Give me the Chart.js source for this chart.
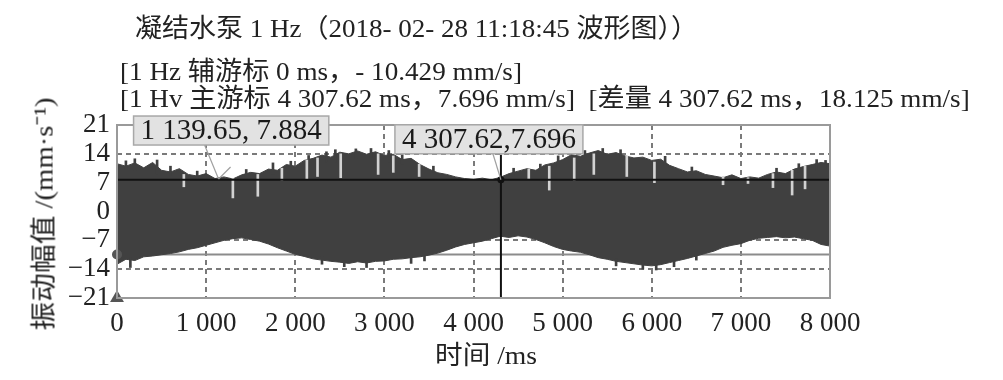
<!DOCTYPE html>
<html>
<head>
<meta charset="utf-8">
<script src="https://cdn.jsdelivr.net/npm/chart.js@4.4.1/dist/chart.umd.min.js"></script>
<style>
body { margin: 0; background: #fff; }
#wrap { position: relative; width: 1003px; height: 380px; overflow: hidden; }
#chart { position: absolute; left: 0; top: 0; }
.t { position: absolute; white-space: nowrap; font-family: "Liberation Serif", "Noto Sans CJK SC", serif;
     font-size: 26px; color: #222; line-height: 1; transform-origin: 0 50%; }
</style>
</head>
<body>
<div id="wrap">
  <canvas id="chart" width="1003" height="380"></canvas>
  <div class="t" id="l1">凝结水泵 1 Hz（2018- 02- 28 11:18:45 波形图））</div>
  <div class="t" id="l2">[1 Hz 辅游标 0 ms，- 10.429 mm/s]</div>
  <div class="t" id="l3">[1 Hv 主游标 4 307.62 ms，7.696 mm/s]&nbsp; [差量 4 307.62 ms，18.125 mm/s]</div>
  <div class="t" id="xt">时间 /ms</div>
  <div class="t" id="yt">振动幅值 /(mm·s⁻¹)</div>
</div>
<script>
// waveform envelope (upper / lower edge), every 100 ms
const timeMs = [0, 100, 200, 300, 400, 500, 600, 700, 800, 900,
  1000, 1100, 1200, 1300, 1400, 1500, 1600, 1700, 1800, 1900,
  2000, 2100, 2200, 2300, 2400, 2500, 2600, 2700, 2800, 2900,
  3000, 3100, 3200, 3300, 3400, 3500, 3600, 3700, 3800, 3900,
  4000, 4100, 4200, 4300, 4400, 4500, 4600, 4700, 4800, 4900,
  5000, 5100, 5200, 5300, 5400, 5500, 5600, 5700, 5800, 5900,
  6000, 6100, 6200, 6300, 6400, 6500, 6600, 6700, 6800, 6900,
  7000, 7100, 7200, 7300, 7400, 7500, 7600, 7700, 7800, 7900, 8000]
const upperEnv = [11.6, 11.0, 11.8, 10.6, 11.9, 10.0, 9.6, 10.4, 9.0, 8.6,
  9.2, 8.0, 8.4, 7.9, 8.9, 9.5, 9.2, 10.3, 10.0, 11.4,
  11.0, 12.4, 12.9, 13.7, 13.2, 14.4, 14.0, 14.7, 13.9, 14.5,
  13.6, 13.9, 12.6, 12.9, 11.4, 10.3, 9.4, 9.0, 8.4, 8.0,
  7.8, 8.1, 7.7, 8.3, 9.2, 9.8, 10.4, 10.0, 11.3, 11.8,
  12.6, 13.8, 13.4, 14.2, 14.8, 13.9, 14.3, 13.5, 13.0, 13.2,
  12.4, 12.7, 11.2, 10.4, 9.6, 9.9, 9.0, 8.6, 8.2, 8.9,
  8.0, 8.4, 8.1, 9.0, 9.6, 9.2, 10.3, 10.9, 11.4, 11.9, 11.6]
const lowerEnv = [-12.8, -11.6, -11.9, -11.0, -10.8, -10.5, -10.2, -9.8, -9.2, -8.8,
  -8.2, -7.6, -7.0, -6.6, -6.4, -6.8, -7.2, -7.9, -8.8, -9.6,
  -10.4, -10.9, -11.5, -11.8, -12.1, -12.3, -12.6, -12.2, -12.5, -12.1,
  -12.0, -11.6, -11.5, -11.2, -11.0, -10.6, -10.1, -9.4, -8.6, -8.0,
  -7.6, -7.2, -6.6, -6.0, -6.3, -5.9, -6.2, -6.8, -7.6, -8.5,
  -9.2, -9.6, -9.9, -10.5, -11.2, -11.6, -12.1, -12.4, -12.7, -13.0,
  -13.2, -12.9, -12.4, -11.9, -11.4, -10.8, -10.2, -9.6, -8.7, -8.2,
  -7.8, -7.0, -6.5, -6.3, -6.1, -6.4, -6.2, -6.6, -7.0, -8.0, -8.4]

// light dips cutting into the upper band: [time, low, high]
const dipSpikes = [[750, 6.0, 9.0], [1300, 3.3, 8.0], [1580, 3.7, 9.0], [1850, 7.5, 10.5],
  [2130, 7.8, 12.5], [2250, 8.5, 13.0], [2510, 8.2, 14.0], [2930, 9.0, 14.0], [3100, 9.5, 13.5],
  [3390, 8.5, 11.5], [4620, 8.0, 10.3], [4850, 5.2, 11.0], [5130, 7.5, 13.0], [5350, 9.0, 14.0],
  [5720, 8.5, 13.5], [6030, 7.0, 12.0], [6800, 6.5, 8.5], [7080, 6.8, 8.2], [7360, 5.8, 9.2],
  [7575, 4.0, 10.0], [7720, 5.5, 11.0]]
// dark peaks sticking out of the band: [time, low, high]
const peakSpikes = [[100, 10, 12.3], [200, 10, 12.8], [450, 9, 12.5], [600, 8.5, 11.0],
  [900, 8, 9.8], [1450, 8, 10.2], [1750, 9, 11.8], [1950, 10, 12.2], [2150, 11, 13.6],
  [2350, 12, 14.5], [2450, 12, 15.0], [2680, 13, 15.2], [2850, 13, 15.3], [3050, 12, 14.8],
  [3200, 11.5, 13.8], [3550, 9.5, 11.0], [4450, 8.5, 10.5], [4750, 9.5, 11.5], [4950, 11, 13.5],
  [5250, 12.5, 14.8], [5450, 13, 15.3], [5650, 13, 15.0], [6150, 11, 13.4], [6450, 9, 10.8],
  [7400, 8.5, 10.5], [7650, 9.5, 11.6], [7850, 10, 12.6], [7950, 10.5, 12.4],
  [150, -11, -13.6], [2300, -11, -12.8], [2550, -12, -13.4], [2800, -12, -13.6], [3300, -11, -12.6],
  [3450, -10.5, -12.0], [5600, -11.5, -13.2], [5900, -12, -14.0], [6050, -12, -14.2],
  [6250, -12, -13.4], [6500, -10, -11.8]]

const xTicks = [0, 1000, 2000, 3000, 4000, 5000, 6000, 7000, 8000]
const yTicks = [-21, -14, -7, 0, 7, 14, 21]

// cursors
const mainCursor = { t: 4307.62, v: 7.696, label: '4 307.62,7.696' }
const auxCursor = { t: 0, v: -10.429 }
const marker1 = { t: 1139.65, v: 7.884, label: '1 139.65, 7.884' }

const serif = 'Liberation Serif'

function pts(arr) {
  return timeMs.map((t, i) => ({ x: t, y: arr[i] }))
}
function bars(list) {
  return list.map(s => ({ x: s[0], y: [s[1], s[2]] }))
}
function fmtX(v) {
  return String(v).replace(/\B(?=(\d{3})+(?!\d))/g, ' ')
}

const boxes = {
  id: 'boxes',
  afterDraw(chart) {
    const ctx = chart.ctx
    const a = chart.chartArea
    ctx.save()
    // plot frame
    ctx.strokeStyle = '#9a9a9a'
    ctx.lineWidth = 2
    ctx.strokeRect(a.left, a.top, a.right - a.left, a.bottom - a.top)

    const sx = chart.scales.x, sy = chart.scales.y
    ctx.font = '29px ' + serif
    ctx.textBaseline = 'middle'

    function tag(m, dx, dy, lx) {
      const px = sx.getPixelForValue(m.t), py = sy.getPixelForValue(m.v)
      const w = ctx.measureText(m.label).width + 14
      const h = 29
      const left = px + dx, top = py + dy
      ctx.strokeStyle = '#a0a0a0'
      ctx.lineWidth = 1.2
      ctx.beginPath()
      ctx.moveTo(px + lx, top + h)
      ctx.lineTo(px, py)
      ctx.stroke()
      ctx.fillStyle = '#e2e2e2'
      ctx.fillRect(left, top, w, h)
      ctx.strokeStyle = '#a8a8a8'
      ctx.lineWidth = 1.5
      ctx.strokeRect(left, top, w, h)
      ctx.fillStyle = '#1a1a1a'
      ctx.fillText(m.label, left + 7, top + h / 2 + 1)
    }
    tag(marker1, -85, -63, -14)
    const mx = sx.getPixelForValue(marker1.t), my = sy.getPixelForValue(marker1.v)
    ctx.strokeStyle = '#a0a0a0'
    ctx.lineWidth = 1.2
    ctx.beginPath()
    ctx.moveTo(mx, my)
    ctx.lineTo(mx + 12, my - 12)
    ctx.stroke()
    tag(mainCursor, -106, -55, -8)
    ctx.restore()
  }
}

new Chart(document.getElementById('chart'), {
  type: 'line',
  data: {
    datasets: [
      { data: pts(upperEnv), borderColor: '#404040', backgroundColor: '#404040', borderWidth: 1,
        pointRadius: 0, fill: '+1', order: 6 },
      { data: pts(lowerEnv), borderColor: '#404040', borderWidth: 1, pointRadius: 0, fill: false, order: 6 },
      { type: 'bar', data: bars(peakSpikes), backgroundColor: '#404040', barThickness: 2, grouped: false, order: 5 },
      { type: 'bar', data: bars(dipSpikes), backgroundColor: '#d2d2d2', barThickness: 2, grouped: false, order: 4 },
      { data: [{ x: 0, y: auxCursor.v }, { x: 8000, y: auxCursor.v }], borderColor: '#8c8c8c',
        borderWidth: 2, pointRadius: 0, order: 9 },
      { data: [{ x: 0, y: mainCursor.v }, { x: 8000, y: mainCursor.v }], borderColor: '#111',
        borderWidth: 2, pointRadius: 0, order: 1 },
      { data: [{ x: mainCursor.t, y: -21 }, { x: mainCursor.t, y: 13.8 }], borderColor: '#111',
        borderWidth: 2, pointRadius: 0, order: 1 },
      { data: [{ x: mainCursor.t, y: mainCursor.v }], showLine: false, pointRadius: 3.5,
        pointBackgroundColor: '#111', pointBorderWidth: 0, order: 0 },
      { data: [{ x: auxCursor.t, y: auxCursor.v }], showLine: false, pointRadius: 5, clip: false,
        pointBackgroundColor: '#555', pointBorderWidth: 0, order: 0 },
      { data: [{ x: 0, y: -21 }], showLine: false, pointRadius: 8, pointStyle: 'triangle', clip: false,
        pointBackgroundColor: '#555', pointBorderWidth: 0, order: 0 }
    ]
  },
  options: {
    responsive: false,
    animation: false,
    layout: { padding: { left: 0, top: 125, right: 173, bottom: 0 } },
    plugins: { legend: { display: false }, tooltip: { enabled: false } },
    scales: {
      x: {
        type: 'linear', min: 0, max: 8000, offset: false,
        afterBuildTicks: s => { s.ticks = xTicks.map(v => ({ value: v })) },
        afterFit: s => { s.height = 82 },
        ticks: { font: { family: serif, size: 27 }, color: '#222', padding: 10, maxRotation: 0,
          autoSkip: false, callback: v => fmtX(v) },
        grid: { drawTicks: false, lineWidth: 2, offset: false,
          color: c => (c.tick.value === 0 || c.tick.value === 8000) ? 'rgba(0,0,0,0)' : '#7a7a7a' },
        border: { display: false, dash: [5, 4] }
      },
      y: {
        min: -21, max: 21,
        afterBuildTicks: s => { s.ticks = yTicks.map(v => ({ value: v })) },
        afterFit: s => { s.width = 117 },
        ticks: { font: { family: serif, size: 27 }, color: '#222', padding: 7, autoSkip: false,
          callback: v => String(v).replace('-', '\u2212') },
        grid: { drawTicks: false, lineWidth: 2,
          color: c => (Math.abs(c.tick.value) === 21) ? 'rgba(0,0,0,0)' : '#7a7a7a' },
        border: { display: false, dash: [5, 4] }
      }
    }
  },
  plugins: [boxes]
})

// place the text lines
function fit(id, left, right, cy) {
  const el = document.getElementById(id)
  const w = el.offsetWidth, h = el.offsetHeight
  el.style.left = left + 'px'
  el.style.top = (cy - h / 2) + 'px'
  el.style.transform = 'scaleX(' + ((right - left) / w) + ')'
}
fit('l1', 135, 698, 29)
fit('l2', 120, 522, 72)
fit('l3', 120, 970, 99)
fit('xt', 435, 537, 356)
const yt = document.getElementById('yt')
const yw = yt.offsetWidth, yh = yt.offsetHeight
yt.style.transformOrigin = '50% 50%'
yt.style.left = (44 - yw / 2) + 'px'
yt.style.top = (214 - yh / 2) + 'px'
yt.style.transform = 'rotate(-90deg) scaleX(' + (233 / yw) + ')'
</script>
</body>
</html>
